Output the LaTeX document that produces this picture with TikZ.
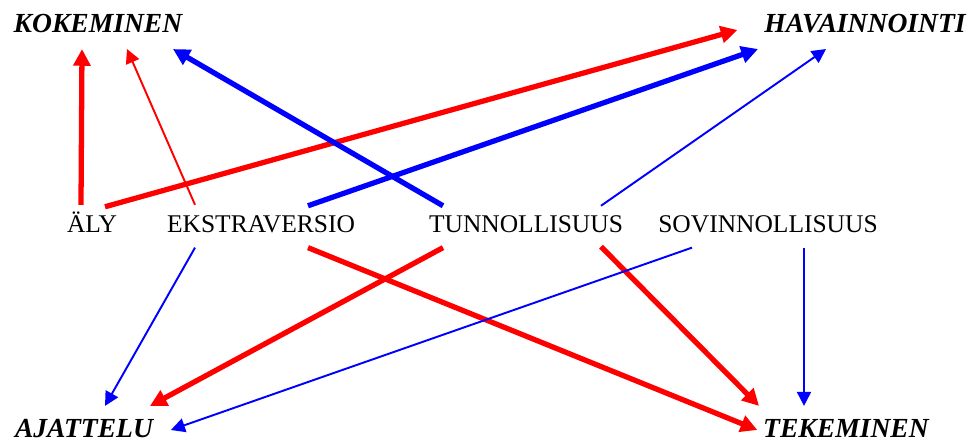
\documentclass[tikz,border=0pt]{standalone}
\usepackage{fontspec}
\setmainfont{Liberation Serif}
\usetikzlibrary{arrows.meta,calc}

\tikzset{
	trait/.style={anchor=base,inner xsep=0pt,inner ysep=5pt,text height=10.3pt,text depth=3.7pt,font=\fontsize{14.5}{16}\selectfont},
	outcome/.style={anchor=base,inner xsep=10pt,inner ysep=6.5pt,text height=11pt,text depth=3pt,font=\fontsize{15.7}{18}\selectfont\bfseries\itshape},
	strongarr/.style={line width=3pt,-{Triangle[length=9.5pt,width=9.5pt]}},
	weakarr/.style={line width=1.1pt,-{Triangle[length=8pt,width=8pt]}}
}

\begin{document}
\begin{tikzpicture}[x=0.02cm,y=-0.02cm]
	\useasboundingbox (0,0) rectangle (976,443);
	\node[outcome] (kok) at (98,32) {KOKEMINEN};
	\node[outcome] (hav) at (865,32) {HAVAINNOINTI};
	\node[trait] (aly) at (92,232) {ÄLY};
	\node[trait] (ext) at (261,232) {EKSTRAVERSIO};
	\node[trait] (tun) at (526,232) {TUNNOLLISUUS};
	\node[trait] (sov) at (768,232) {SOVINNOLLISUUS};
	\node[outcome] (ajat) at (84,437) {AJATTELU};
	\node[outcome] (tek) at (846,437) {TEKEMINEN};
	% upwards
	\draw[strongarr,red] ($(aly.north)+(-11,0)$) -- ($(kok.south)+(-16,0)$);
	\draw[strongarr,red] ($(aly.north)+(13,2)$) -- ($(hav.west)+(-9,5)$);
	\draw[weakarr,red] ($(ext.north)+(-66,0)$) -- ($(kok.south)+(29,0)$);
	\draw[strongarr,blue] ($(ext.north)+(47,1)$) -- ($(hav.south)+(-107,0)$);
	\draw[strongarr,blue] ($(tun.north)+(-83,1)$) -- ($(kok.south)+(75,0)$);
	\draw[weakarr,blue] ($(tun.north)+(75,1)$) -- ($(hav.south)+(-39,0)$);
	% downwards
	\draw[weakarr,blue] ($(ext.south)+(-66,0)$) -- ($(ajat.north)+(21,0)$);
	\draw[strongarr,red] ($(ext.south)+(47,0)$) -- ($(tek.west)+(12,0)$);
	\draw[strongarr,red] ($(tun.south)+(-83,0)$) -- ($(ajat.north)+(66,0)$);
	\draw[strongarr,red] ($(tun.south)+(75,-1)$) -- ($(tek.north)+(-87,0)$);
	\draw[weakarr,blue] ($(sov.south)+(-76,0)$) -- (ajat.east);
	\draw[weakarr,blue] ($(sov.south)+(36,0)$) -- ($(tek.north)+(-42,0)$);
\end{tikzpicture}
\end{document}
